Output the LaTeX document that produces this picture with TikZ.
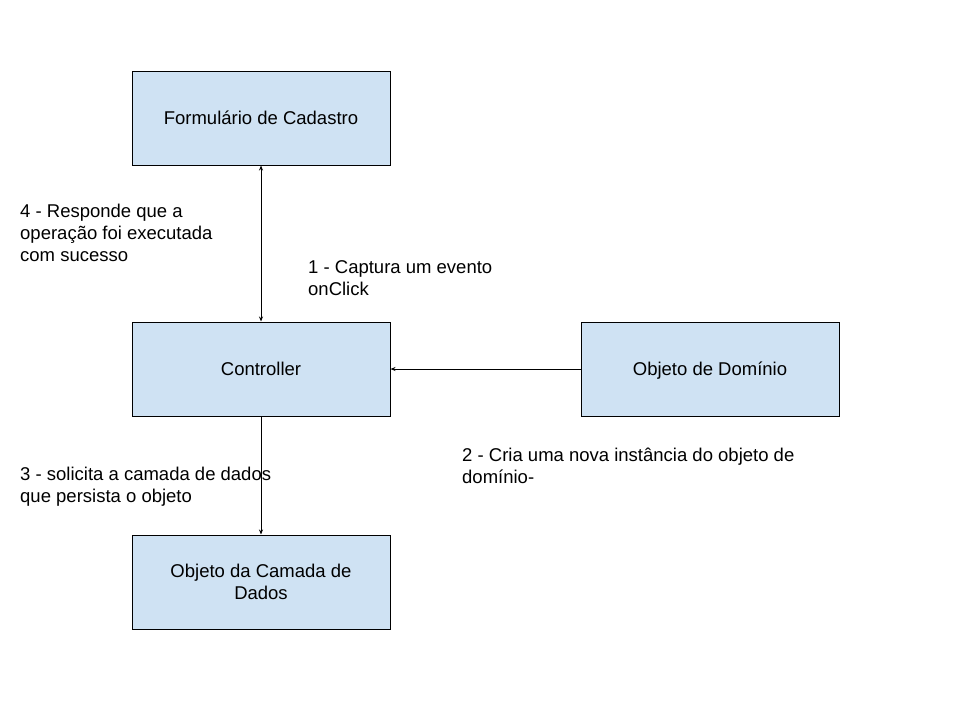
\documentclass[tikz,border=0pt]{standalone}
\usepackage{fontspec}
\setmainfont{Liberation Sans}
\usetikzlibrary{arrows.meta}
\definecolor{boxblue}{HTML}{CFE2F3}
\begin{document}
\begin{tikzpicture}[x=1pt,y=-1pt,
  box/.style={draw=black,line width=1pt,fill=boxblue,minimum width=258pt,minimum height=94pt,inner sep=0pt,align=center,font=\fontsize{18.5}{22}\selectfont},
  onebox/.style={box,text height=13.5pt,text depth=0pt},
  lbl/.style={anchor=base west,inner sep=0pt,align=left,font=\fontsize{18.5}{22}\selectfont},
  conn/.style={line width=1pt,-{Stealth[length=5pt,width=4pt]}},
  conn2/.style={line width=1pt,{Stealth[length=5pt,width=4pt]}-{Stealth[length=5pt,width=4pt]}}]
\useasboundingbox (0,0) rectangle (960,720);
\node[onebox] (form) at (261,118) {Formulário de Cadastro};
\node[onebox] (ctrl) at (261,369) {Controller};
\node[onebox] (dom) at (710,369) {Objeto de Domínio};
\node[box] (dados) at (261,582) {\raisebox{-1.5pt}{Objeto da Camada de}\\\raisebox{-1.5pt}{Dados}};
\draw[conn2] (form) -- (ctrl);
\draw[conn] (dom) -- (ctrl);
\draw[conn] (ctrl) -- (dados);
\node[lbl] (l4) at (20,261) {4 - Responde que a\\operação foi executada\\com sucesso};
\node[lbl] (l1) at (308,295) {1 - Captura um evento\\onClick};
\node[lbl] (l2) at (462,483) {2 - Cria uma nova instância do objeto de\\domínio-};
\node[lbl] (l3) at (20,502) {3 - solicita a camada de dados\\que persista o objeto};
\end{tikzpicture}
\end{document}
